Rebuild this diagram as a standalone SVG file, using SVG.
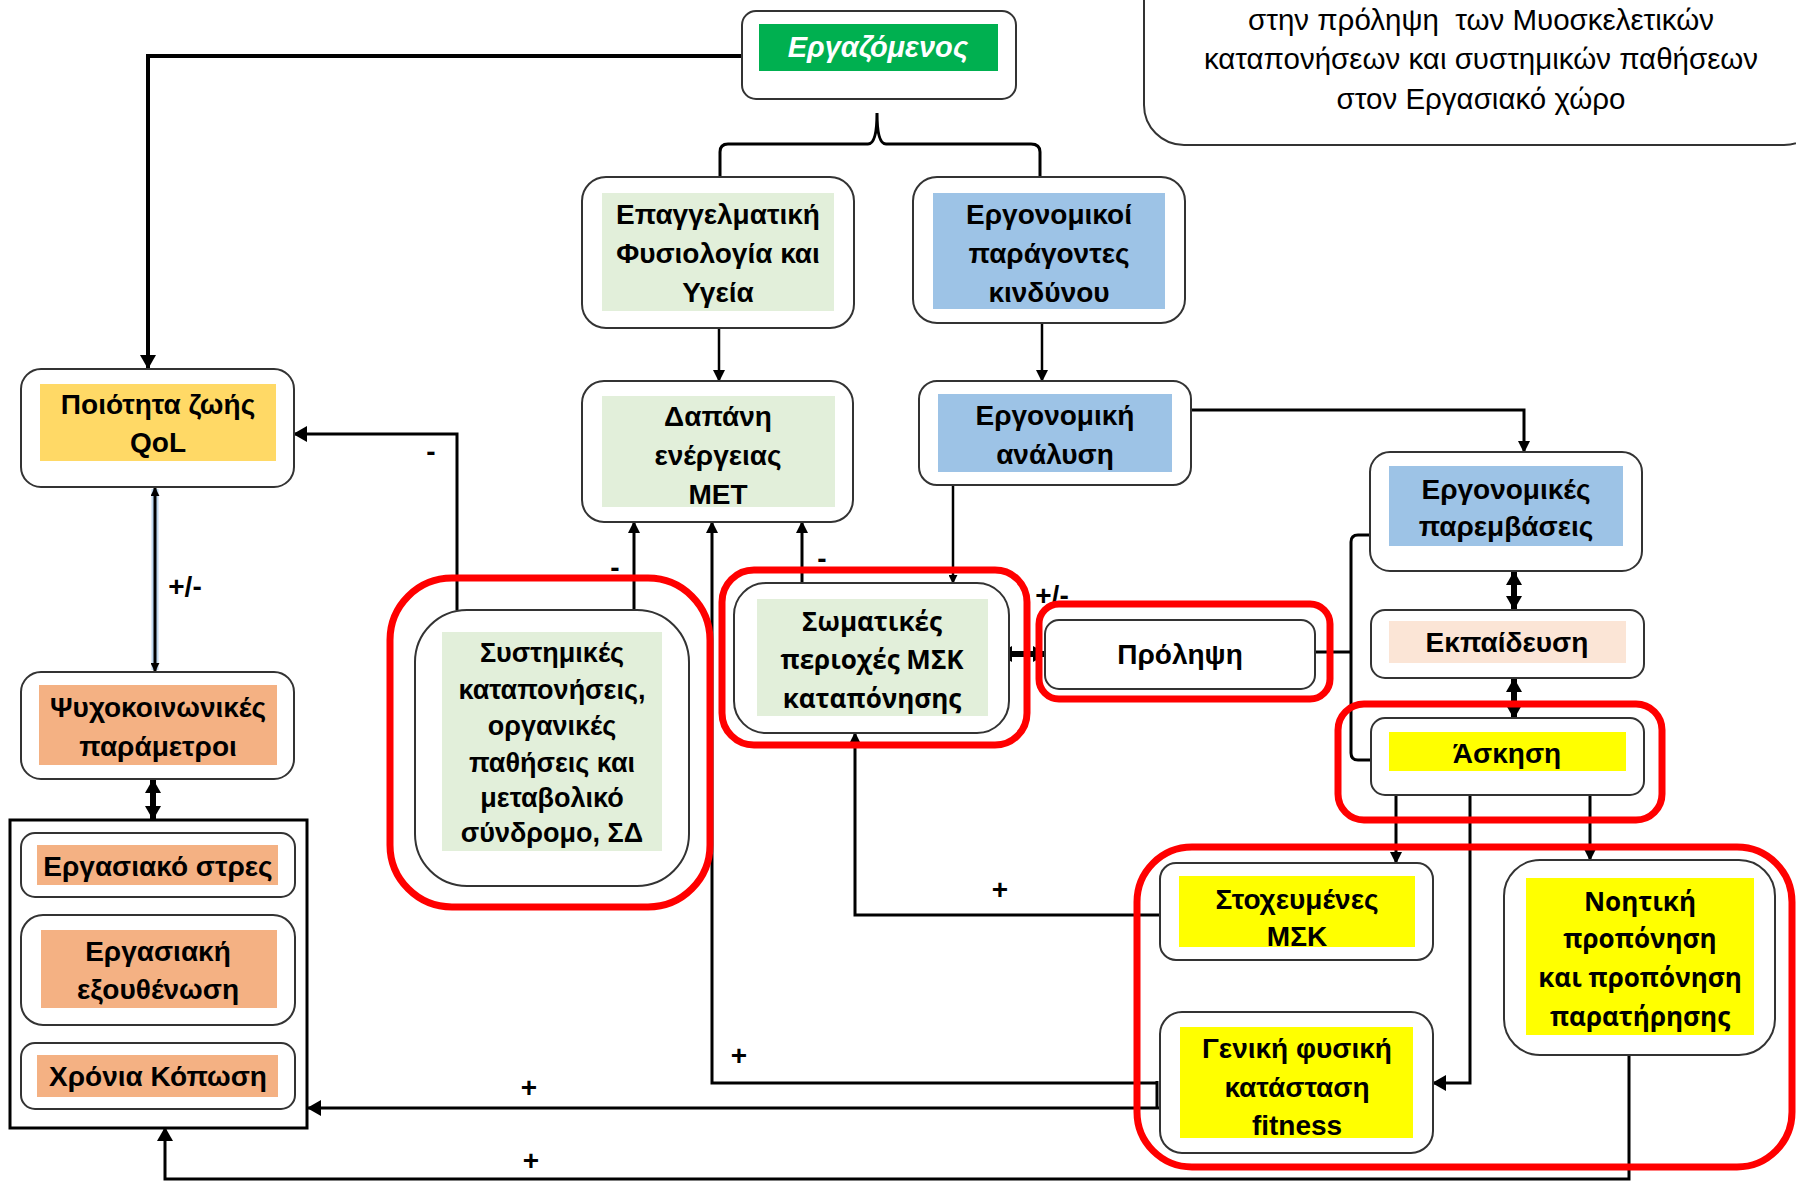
<svg xmlns="http://www.w3.org/2000/svg" width="1796" height="1182" viewBox="0 0 1796 1182">
  <style>
    .box { fill: #ffffff; stroke: #333333; stroke-width: 2; }
    .grp { fill: none; stroke: #000000; stroke-width: 3; }
    .hl { fill: none; stroke: #ff0000; stroke-width: 7; }
    .lbl { font-family: "Liberation Sans", Arial, sans-serif; font-weight: bold; font-size: 28px; fill: #000000; text-anchor: middle; }
    .lbl2 { font-family: "Open Sans", "Liberation Sans", sans-serif; font-weight: bold; font-size: 26px; fill: #000000; text-anchor: middle; }
    .title { font-family: "Liberation Sans", Arial, sans-serif; font-size: 29.5px; fill: #000000; text-anchor: middle; white-space: pre; }
    .sign { font-family: "Liberation Sans", Arial, sans-serif; font-weight: bold; font-size: 28px; fill: #000000; text-anchor: middle; }
    .ln { fill: none; stroke: #000000; stroke-width: 2.5; }
    .ln3 { fill: none; stroke: #000000; stroke-width: 3; }
    .thick { fill: none; stroke: #000000; stroke-width: 6; }
  </style>
  <defs>
    <marker id="ah" viewBox="0 0 12 12" refX="11" refY="6" markerWidth="12" markerHeight="12" markerUnits="userSpaceOnUse" orient="auto-start-reverse">
      <path d="M0,0 L12,6 L0,12 z" fill="#000000"/>
    </marker>
    <marker id="ahs" viewBox="0 0 10 10" refX="9" refY="5" markerWidth="9" markerHeight="9" markerUnits="userSpaceOnUse" orient="auto-start-reverse">
      <path d="M0,0 L10,5 L0,10 z" fill="#000000"/>
    </marker>
    <marker id="ahw" viewBox="0 0 14 16" refX="13" refY="8" markerWidth="14" markerHeight="16" markerUnits="userSpaceOnUse" orient="auto-start-reverse">
      <path d="M0,0 L14,8 L0,16 z" fill="#000000"/>
    </marker>
  </defs>

  <rect width="1796" height="1182" fill="#ffffff"/>

  <!-- title panel, running off the top and right edges -->
  <g id="title-panel">
    <rect class="box" x="1144" y="-60" width="680" height="205" rx="40"/>
    <text class="title" x="1481" y="30" xml:space="preserve">στην πρόληψη  των Μυοσκελετικών</text>
    <text class="title" x="1481" y="69">καταπονήσεων και συστημικών παθήσεων</text>
    <text class="title" x="1481" y="109">στον Εργασιακό χώρο</text>
  </g>

  <!-- connectors -->
  <g id="connectors">
    <path d="M742,56 L148,56 L148,368" fill="none" stroke="#000" stroke-width="4" marker-end="url(#ahw)"/>
    <path class="ln3" d="M720,178 L720,152 Q720,144 728,144 L868,144 Q877,144 877,113 Q877,144 886,144 L1031,144 Q1040,144 1040,152 L1040,178"/>
    <path class="ln" d="M719,328 L719,381" marker-end="url(#ah)"/>
    <path class="ln" d="M1042,323 L1042,381" marker-end="url(#ah)"/>
    <path class="ln3" d="M1191,410 L1524,410 L1524,452" marker-end="url(#ah)"/>
    <path class="ln" d="M953,486 L953,583" marker-end="url(#ahs)"/>
    <path class="ln3" d="M634,611 L634,522" marker-end="url(#ah)"/>
    <path class="ln3" d="M1157,1083 L712,1083 L712,522" marker-end="url(#ah)"/>
    <path class="ln3" d="M802,583 L802,522" marker-end="url(#ah)"/>
    <path class="ln3" d="M457,610 L457,434 L294,434" marker-end="url(#ahw)"/>
    <path d="M155,489 L155,670" fill="none" stroke="#bdd7ee" stroke-width="7"/>
    <path class="ln3" d="M155,488 L155,671" marker-start="url(#ahs)" marker-end="url(#ahs)"/>
    <path class="thick" d="M153,780 L153,819" marker-start="url(#ahw)" marker-end="url(#ahw)"/>
    <path class="thick" d="M999,654 L1046,654" marker-start="url(#ahw)" marker-end="url(#ahw)"/>
    <path class="ln3" d="M1315,652 L1351,652 M1370,535 L1358,535 Q1351,535 1351,542 L1351,753 Q1351,760 1358,760 L1371,760"/>
    <path class="thick" d="M1514,572 L1514,609" marker-start="url(#ahw)" marker-end="url(#ahw)"/>
    <path class="thick" d="M1514,679 L1514,718" marker-start="url(#ahw)" marker-end="url(#ahw)"/>
    <path class="ln3" d="M1396,795 L1396,863" marker-end="url(#ah)"/>
    <path class="ln3" d="M1470,795 L1470,1083 L1433,1083" marker-end="url(#ahw)"/>
    <path class="ln3" d="M1590,795 L1590,860" marker-end="url(#ah)"/>
    <path class="ln3" d="M1160,915 L855,915 L855,733" marker-end="url(#ah)"/>
    <path class="ln3" d="M1157,1081 L1157,1108 L1160,1108 M1157,1108 L308,1108" marker-end="url(#ahw)"/>
    <path class="ln3" d="M1629,1055 L1629,1179 L165,1179 L165,1128" marker-end="url(#ahw)"/>
    <text class="sign" x="431" y="461">-</text>
    <text class="sign" x="615" y="577">-</text>
    <text class="sign" x="822" y="568">-</text>
    <text class="sign" x="185" y="596">+/-</text>
    <text class="sign" x="1052" y="605">+/-</text>
    <text class="sign" x="1000" y="899">+</text>
    <text class="sign" x="739" y="1065">+</text>
    <text class="sign" x="529" y="1097">+</text>
    <text class="sign" x="531" y="1170">+</text>
  </g>

  <g id="worker">
    <rect class="box" x="742" y="11" width="274" height="88" rx="14"/>
    <rect x="759" y="24" width="239" height="47" fill="#00b050"/>
    <text class="lbl" x="878" y="57" font-style="italic" style="fill:#ffffff;font-size:29px">Εργαζόμενος</text>
  </g>

  <g id="occupational-physiology">
    <rect class="box" x="582" y="177" width="272" height="151" rx="24"/>
    <rect x="602" y="193" width="232" height="118" fill="#e2efda"/>
    <text class="lbl" x="718" y="224">Επαγγελματική</text>
    <text class="lbl" x="718" y="263">Φυσιολογία και</text>
    <text class="lbl" x="718" y="302">Υγεία</text>
  </g>

  <g id="ergonomic-risk">
    <rect class="box" x="913" y="177" width="272" height="146" rx="24"/>
    <rect x="933" y="193" width="232" height="116" fill="#9dc3e6"/>
    <text class="lbl" x="1049" y="224">Εργονομικοί</text>
    <text class="lbl" x="1049" y="263">παράγοντες</text>
    <text class="lbl" x="1049" y="302">κινδύνου</text>
  </g>

  <g id="quality-of-life">
    <rect class="box" x="21" y="369" width="273" height="118" rx="20"/>
    <rect x="40" y="384" width="236" height="77" fill="#ffd966"/>
    <text class="lbl" x="158" y="414">Ποιότητα ζωής</text>
    <text class="lbl" x="158" y="452">QoL</text>
  </g>

  <g id="energy-expenditure">
    <rect class="box" x="582" y="381" width="271" height="141" rx="22"/>
    <rect x="602" y="396" width="233" height="111" fill="#e2efda"/>
    <text class="lbl" x="718" y="426">Δαπάνη</text>
    <text class="lbl" x="718" y="465">ενέργειας</text>
    <text class="lbl" x="718" y="504">ΜΕΤ</text>
  </g>

  <g id="ergonomic-analysis">
    <rect class="box" x="919" y="381" width="272" height="104" rx="18"/>
    <rect x="938" y="394" width="234" height="78" fill="#9dc3e6"/>
    <text class="lbl" x="1055" y="425">Εργονομική</text>
    <text class="lbl" x="1055" y="464">ανάλυση</text>
  </g>

  <g id="ergonomic-interventions">
    <rect class="box" x="1370" y="452" width="272" height="119" rx="20"/>
    <rect x="1389" y="466" width="234" height="80" fill="#9dc3e6"/>
    <text class="lbl" x="1506" y="499">Εργονομικές</text>
    <text class="lbl" x="1506" y="536">παρεμβάσεις</text>
  </g>

  <g id="education">
    <rect class="box" x="1371" y="610" width="273" height="68" rx="14"/>
    <rect x="1389" y="621" width="237" height="42" fill="#fbe5d6"/>
    <text class="lbl" x="1507" y="652">Εκπαίδευση</text>
  </g>

  <g id="exercise">
    <rect class="box" x="1371" y="718" width="273" height="77" rx="14"/>
    <rect x="1389" y="732" width="237" height="39" fill="#ffff00"/>
    <text class="lbl" x="1507" y="763">Άσκηση</text>
  </g>

  <g id="prevention">
    <rect class="box" x="1045" y="620" width="270" height="69" rx="14"/>
    <text class="lbl" x="1180" y="664">Πρόληψη</text>
  </g>

  <g id="msk-regions">
    <rect class="box" x="734" y="583" width="275" height="150" rx="32"/>
    <rect x="757" y="599" width="231" height="117" fill="#e2efda"/>
    <text class="lbl2" x="872" y="631">Σωματικές</text>
    <text class="lbl2" x="872" y="669">περιοχές ΜΣΚ</text>
    <text class="lbl2" x="872" y="708">καταπόνησης</text>
  </g>

  <g id="systemic-strain">
    <rect class="box" x="415" y="610" width="274" height="276" rx="52"/>
    <rect x="442" y="632" width="220" height="219" fill="#e2efda"/>
    <text class="lbl" x="552" y="662" style="font-size:27px">Συστημικές</text>
    <text class="lbl" x="552" y="699" style="font-size:27px">καταπονήσεις,</text>
    <text class="lbl" x="552" y="735" style="font-size:27px">οργανικές</text>
    <text class="lbl" x="552" y="772" style="font-size:27px">παθήσεις και</text>
    <text class="lbl" x="552" y="807" style="font-size:27px">μεταβολικό</text>
    <text class="lbl" x="552" y="842" style="font-size:27px">σύνδρομο, ΣΔ</text>
  </g>

  <g id="psychosocial">
    <rect class="box" x="21" y="672" width="273" height="107" rx="20"/>
    <rect x="39" y="685" width="238" height="80" fill="#f4b183"/>
    <text class="lbl" x="158" y="717">Ψυχοκοινωνικές</text>
    <text class="lbl" x="158" y="756">παράμετροι</text>
  </g>

  <g id="work-outcomes">
    <rect class="grp" x="10" y="820" width="297" height="308"/>
    <g id="work-stress">
      <rect class="box" x="21" y="833" width="274" height="64" rx="14"/>
      <rect x="37" y="845" width="241" height="40" fill="#f4b183"/>
      <text class="lbl" x="158" y="876">Εργασιακό στρες</text>
    </g>
    <g id="burnout">
      <rect class="box" x="21" y="915" width="274" height="110" rx="22"/>
      <rect x="41" y="930" width="236" height="78" fill="#f4b183"/>
      <text class="lbl" x="158" y="961">Εργασιακή</text>
      <text class="lbl" x="158" y="999">εξουθένωση</text>
    </g>
    <g id="chronic-fatigue">
      <rect class="box" x="21" y="1043" width="274" height="66" rx="14"/>
      <rect x="37" y="1055" width="241" height="42" fill="#f4b183"/>
      <text class="lbl" x="158" y="1086">Χρόνια Κόπωση</text>
    </g>
  </g>

  <g id="targeted-msk">
    <rect class="box" x="1160" y="863" width="273" height="97" rx="16"/>
    <rect x="1179" y="876" width="236" height="71" fill="#ffff00"/>
    <text class="lbl" x="1297" y="909">Στοχευμένες</text>
    <text class="lbl" x="1297" y="946">ΜΣΚ</text>
  </g>

  <g id="general-fitness">
    <rect class="box" x="1160" y="1012" width="273" height="141" rx="22"/>
    <rect x="1180" y="1027" width="233" height="111" fill="#ffff00"/>
    <text class="lbl" x="1297" y="1058">Γενική φυσική</text>
    <text class="lbl" x="1297" y="1097">κατάσταση</text>
    <text class="lbl" x="1297" y="1135">fitness</text>
  </g>

  <g id="mental-training">
    <rect class="box" x="1504" y="860" width="271" height="195" rx="36"/>
    <rect x="1526" y="878" width="228" height="157" fill="#ffff00"/>
    <text class="lbl2" x="1640" y="911">Νοητική</text>
    <text class="lbl2" x="1640" y="948">προπόνηση</text>
    <text class="lbl2" x="1640" y="987">και προπόνηση</text>
    <text class="lbl2" x="1640" y="1026">παρατήρησης</text>
  </g>

  <!-- red emphasis outlines -->
  <g id="highlights">
    <rect class="hl" x="390" y="578" width="320" height="329" rx="62"/>
    <rect class="hl" x="722" y="570" width="305" height="175" rx="32"/>
    <rect class="hl" x="1039" y="604" width="291" height="95" rx="20"/>
    <rect class="hl" x="1338" y="704" width="324" height="116" rx="26"/>
    <rect class="hl" x="1137" y="847" width="655" height="320" rx="55"/>
  </g>
</svg>
